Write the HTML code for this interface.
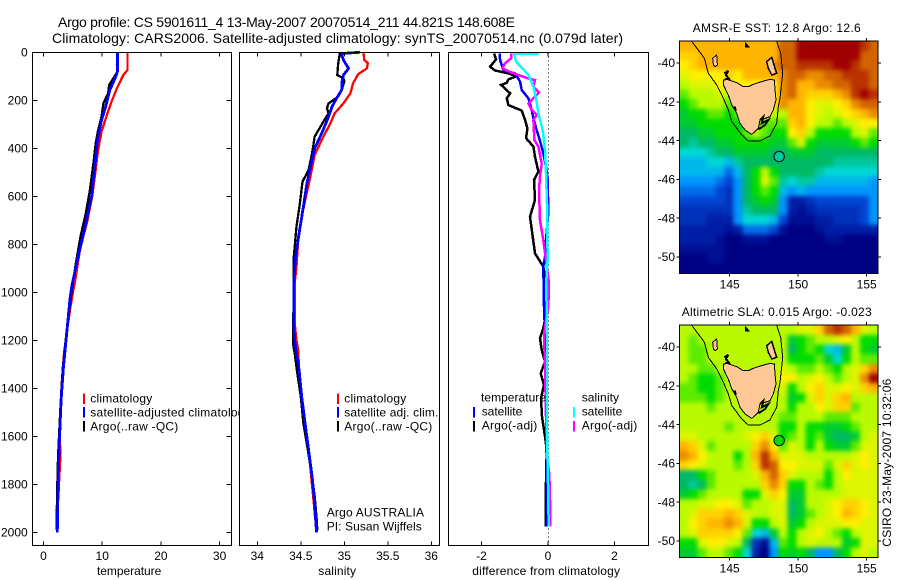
<!DOCTYPE html>
<html>
<head>
<meta charset="utf-8">
<title>Argo profile</title>
<style>
html,body{margin:0;padding:0;background:#fff;}
svg{display:block;font-family:"Liberation Sans",sans-serif;font-size:12px;fill:#000;}
</style>
</head>
<body>
<svg id="chart" xmlns="http://www.w3.org/2000/svg" width="900" height="580" viewBox="0 0 900 580">
<rect width="900" height="580" fill="#fff"/>
<text x="58" y="27" font-size="14" textLength="457" lengthAdjust="spacing">Argo profile: CS 5901611_4 13-May-2007 20070514_211 44.821S 148.608E</text>
<text x="52" y="43" font-size="14" textLength="571" lengthAdjust="spacing">Climatology: CARS2006. Satellite-adjusted climatology: synTS_20070514.nc (0.079d later)</text>
<g id="g1"></g>
<g id="g2"></g>
<g id="g3"></g>
<g id="g4"></g>
<g id="g5"></g>
<text x="692.7" y="32" textLength="168" lengthAdjust="spacing">AMSR-E SST: 12.8 Argo: 12.6</text>
<text x="681.7" y="316" textLength="190" lengthAdjust="spacing">Altimetric SLA: 0.015 Argo: -0.023</text>
<text transform="translate(891,546.7) rotate(-90)" textLength="168" lengthAdjust="spacing">CSIRO 23-May-2007 10:32:06</text>
</svg>
<script>
// ---- axis ticks ----
const depthTicks=[0,200,400,600,800,1000,1200,1400,1600,1800,2000];
const tempTicks=[0,10,20,30];
const salTicks=[34,34.5,35,35.5,36];
const diffTicks=[-2,0,2];
const lonTicks=[145,150,155];
const latTicks=[-40,-42,-44,-46,-48,-50];

// ---- temperature profiles ----
const tClimDepth=[0,74,95,150,205,261,330,407,505,600,700,824,950,990,1060,1143,1254,1379,1574,1671,1865,1890,1950,2000];
const tClimValue=[14.3,14.3,13.6,12.5,11.6,10.8,9.9,9.3,8.8,8.3,7.5,6.2,5.4,5.1,4.6,4.1,3.5,3.1,2.7,2.9,2.5,2.25,2.25,2.3];
const tSatDepth=[0,80,108,157,226,282,365,463,600,713,852,976,1030,1171,1310,1449,1630,1769,2000];
const tSatValue=[12.6,12.6,12.2,11.3,10.6,9.9,9.2,8.8,8.2,7.2,5.9,4.8,4.5,3.95,3.4,3,2.7,2.5,2.35];
const tArgoDepth=[0,50,85,108,136,171,213,268,324,379,463,574,671,768,880,977,1171,1310,1449,1643,1740,1950,1990];
const tArgoValue=[12.6,12.5,12.5,11.9,11.2,11,10.2,9.9,9.3,8.9,8.5,7.9,7.2,6.3,5.5,4.9,3.9,3.3,2.95,2.55,2.4,2.25,2.25];

// ---- salinity profiles ----
const sClimDepth=[0,32,46,67,91,130,171,213,254,296,365,428,518,600,685,782,893,963,1130,1200,1240,1324,1435,1546,1657,1768,1879,1960];
const sClimValue=[35.22,35.23,35.27,35.26,35.16,35.1,35.07,34.99,34.89,34.84,34.74,34.66,34.61,34.56,34.51,34.47,34.45,34.43,34.43,34.45,34.47,34.48,34.51,34.55,34.59,34.62,34.65,34.67];
const sSatDepth=[0,5,10,32,67,95,130,157,192,226,268,338,400,463,546,643,754,852,963,1130,1200,1254,1324,1435,1546,1657,1768,1879,2000];
const sSatValue=[35.18,34.97,34.97,34.99,35.05,34.99,34.97,34.97,34.91,34.86,34.82,34.74,34.66,34.62,34.57,34.53,34.48,34.44,34.42,34.42,34.43,34.45,34.48,34.51,34.55,34.59,34.63,34.66,34.68];
const sArgoDepth=[0,46,95,108,122,157,185,213,233,254,289,351,421,490,539,629,726,852,1000,1171,1213,1254,1338,1435,1546,1657,1768,1851,1935,1990];
const sArgoValue=[34.95,34.93,34.92,34.99,35,34.97,34.93,34.82,34.8,34.82,34.76,34.66,34.63,34.59,34.52,34.49,34.45,34.42,34.42,34.41,34.41,34.43,34.46,34.5,34.53,34.58,34.63,34.66,34.68,34.69];

// ---- differences from climatology ----
const dTSatDepth=[5,32,74,88,122,157,192,240,275,324,379,421,477,532,671,782,852,893,1060,1171,1518,1726,1976];
const dTSatValue=[-1.46,-1.44,-1.34,-0.99,-0.84,-0.79,-0.59,-0.49,-0.44,-0.34,-0.22,-0.14,-0.06,-0.01,0.01,-0.06,-0.09,-0.14,-0.12,-0.09,-0.06,-0.04,-0.04];
const dTArgoDepth=[5,29,60,76,88,99,113,127,136,171,192,220,243,282,317,358,393,435,497,532,615,685,768,838,893,935,1060,1115,1150,1192,1240,1289,1338,1386,1442,1518,1601,1657,1851,1976];
const dTArgoValue=[-1.62,-1.56,-1.74,-1.59,-1.19,-0.94,-1.19,-1.24,-1.41,-1.14,-1.24,-1.19,-0.79,-0.69,-0.62,-0.66,-0.44,-0.39,-0.29,-0.42,-0.39,-0.54,-0.46,-0.39,-0.14,-0.09,-0.09,-0.09,-0.14,-0.24,-0.19,-0.09,-0.22,-0.12,-0.21,-0.18,-0.09,-0.04,-0.07,-0.07];
const dSSatDepth=[5,7,39,57,94,143,192,254,324,407,504,671,782,852,977,1060,1171,1587,1796,1976];
const dSSatValue=[-0.27,-1.02,-0.96,-0.84,-0.59,-0.44,-0.36,-0.29,-0.16,-0.09,-0.06,-0.02,-0.02,-0.01,-0.06,-0.04,-0.03,-0.03,0,0.02];
const dSArgoDepth=[5,25,46,67,85,109,116,143,168,213,240,261,282,365,393,463,518,574,699,782,866,963,1060,1171,1310,1518,1699,1754,1865,1976];
const dSArgoValue=[-1.11,-1.11,-1.29,-1.37,-1.09,-0.59,-0.39,-0.44,-0.27,-0.59,-0.49,-0.34,-0.44,-0.41,-0.29,-0.19,-0.24,-0.27,-0.24,-0.14,-0.06,0.03,0.01,-0.12,-0.09,-0.06,-0.02,0.04,0.06,0.06];

// ---- map fields: colour level per grid cell (north to south, west to east) ----
const sstLevels=[
[9,9,9,9,9,9,9,9,9,9,9,10,10,11,11,11,11,11,11,11,10.5,10],
[8.5,8.5,9,9,9,9,9,9,9,9,9,10,10,11,11,11,11,11,11,11,10,10],
[8,8.5,9,9,9,9,9,9,9,9,9.5,10,10,10.5,10.5,10.5,10.5,11,11,10.5,10,10],
[7.5,8,8,8,8,8.5,8,9,9,9,9,9.5,10,10,9.5,9.5,10,10,10.5,10.5,10.5,10],
[7,7.5,7.5,7.5,8,7,8,8,8,8,8,9.5,10,9,9,9.5,9.5,10,10,10.5,10.5,10],
[6.5,7,7,7,7.5,7,8,8,8,8,8,9.5,10,9,8.5,8.5,8.5,9,9.5,10.5,11,10.5],
[6,6.5,7,7,7,6.5,7,8,8,8,8,9.5,9,9,8,7.5,7.5,8,8.5,9.5,10,10],
[5.5,6,6,6.5,6.5,6,6.5,7,7,7,7,7,9,9,8,7.5,7,7.5,8,8.5,9,9.5],
[5.5,5.5,6,6,6,6,6,6,6.5,6.5,6.5,6.5,8.5,9,8,7,7,6.5,7,7.5,8,8],
[5,5,5.5,5.5,6,6,6,6.5,7,6.5,6,6,8,8.5,7,6,6,6,6,7,7.5,6.5],
[5,4.5,5,5,5.5,5.5,6,6,6,6,5.5,5.5,6.5,7.5,6,5.5,5.5,5.5,5.5,6,6.5,6],
[4,4,4,4.5,5,5,5.5,5.5,5.5,5.5,5,5,5.5,5.5,5.5,5,5,5,5,5,5,5],
[3.5,3.5,3.5,4,4,3.5,4.5,5,5,5,5,5,5,5,5,5,5,4.5,4.5,4.5,4.5,4.5],
[3.5,3.5,3.5,3.5,3.5,2.5,3.5,5,6,7,6,5,5,5,5,4.5,4,4,4,4,4,4],
[3,3,3,3,2.5,2,3,5,6,7.5,6.5,4.5,4,4.5,4.5,3.5,3.5,3.5,3.5,3.5,3.5,3],
[2.5,2.5,2.5,2.5,2,1.5,3,5,6,6.5,6,3.5,3,3.5,3,3,3,3,3,3,3,3],
[2,2,2,2,2,1.5,3,5,5.5,6,5.5,3,1,1,1.5,2,2,2,2,2,2,3],
[1.5,1.5,1.5,1.5,1.5,1.5,3,4.5,5,5,5,3,1,0.5,1,1.5,1.5,1.5,1.5,1.5,2,3],
[1.5,1.5,1.5,1,1,1,3,4,4,4,3.5,2,0.5,0.5,0.5,1,1,1.5,1.5,1.5,2,3],
[1,1,1,1,1,0.5,1,2.5,2.5,2.5,2,0.5,0,0,0,0.5,1,1,1,1,1,1],
[1,1,1,1,0.5,0,0,0.5,0.5,0.5,0,0,0,0,0,0,0.5,0.5,0,0,0,0],
[0.5,0.5,0.5,0.5,0.5,0,0,0,0,0,0,0,0,0,0,0,0,0,0,0,0,0],
[0,0,0,0.5,0.5,0,0,0,0,0,0,0,0,0,0,0,0,0,0,0,0,0],
[0,0,0,0,0,0,0,0,0,0,0,0,0,0,0,0,0,0,0,0,0,0]
];
const slaLevels=[
[7,7,7,7,7,7,7,7,7,7,7,7,7,7.5,7.5,8.5,10,10.5,10,9,7.5,7],
[7,6.5,7,7,7,7,7,7,7,7,7,7,5.5,6,6.5,7,7,7.5,8,7,6,6],
[7,6.5,6.5,7,7,7,7,7,7,7,7,7,5,6,6.5,6,4,3.5,5.5,7,6,5.5],
[7,6.5,6.5,7,7,7,7,7,7,7,7,7,6,6,6,6.5,5.5,4,6,7,6.5,6.5],
[7,7,6.5,6.5,7,7,7,7,7,7,7,7.5,7,6.5,6.5,7,6.5,6,7,7.5,8.5,9.5],
[7,6.5,6,6,6.5,7,7,7,7,7,7,8,8,7,7.5,8,7,6.5,7,7.5,9.5,11],
[6.5,6.5,6,6,6.5,7,7,7,7,7,7,7.5,6,7,8,8.5,7.5,7.5,8,7.5,8.5,9],
[6.5,6.5,6.5,6,6.5,7,7,7,7,7,7,7,5.5,6,7.5,8.5,7.5,8.5,9,7,7,7],
[7,7,7,6.5,7,7,7,7,7,7,7,7,6,7,7,8,7.5,8.5,8.5,6.5,7,7],
[7,7,7,7,7,7,7,7,7,7,7,6.5,6.5,7,7,7,6.5,6.5,6.5,7,7,7],
[7,7,7,7,7,6.5,7,7,7,7,7,6,6,7,6,6,5.5,5.5,6,6.5,7,7],
[7.5,7.5,7,7,7,7,7,7.5,8,8.5,7.5,6,6.5,7,6,6.5,5.5,5,5,5.5,7,7.5],
[9,8.5,7.5,6.5,7,7,7,7,8.5,9.5,8,6.5,7.5,7,6,7,6,5.5,5.5,6.5,7.5,7.5],
[9.5,9,8,7,7,7,6,7,9,10.5,9,7.5,7.5,7.5,7,7,7,7,7,7.5,8,7.5],
[8.5,8,7.5,7,7,7,6.5,7,8.5,10.5,10,8,8,7.5,7.5,7.5,6.5,7.5,8.5,7.5,8,7.5],
[5,5,6,6.5,7,7,7,7,7.5,9,10,8.5,7.5,7,7,7,6,7,8,7.5,7.5,7.5],
[5,4.5,5,6.5,7,7,7,7,7,8.5,9.5,8.5,6,6,7,6.5,6,7,7.5,7.5,7.5,7.5],
[5.5,6,6.5,7,7,7,7,6,6,7.5,8.5,8,5.5,5.5,7,7,7,7,7.5,7.5,7.5,7.5],
[7,7,7.5,7.5,8,8,7.5,6.5,7,7,7.5,7.5,5,5.5,7,7,7.5,8,8.5,8.5,8,7.5],
[7,7.5,8.5,8.5,8.5,9,8.5,7.5,7,7,7.5,7.5,5,5.5,6.5,7,7.5,8,9,8.5,8,7.5],
[7,8,8.5,9,9,9.5,9,7.5,6,6,7,7.5,5.5,6,7,7.5,7.5,7.5,8,8,7.5,7.5],
[7,7.5,8.5,8.5,8.5,8.5,8,6.5,4,3.5,5.5,7,6,7,7.5,8,7,6.5,6,7,7.5,7.5],
[6,6,7.5,8,8,7.5,7,5,1.5,0.5,3.5,6.5,6,7,7.5,7,7,7,5.5,6,7.5,7.5],
[5.5,5.5,6.5,7,7,6.5,6,4,1,0,3,6,5.5,6,5,3,3,5,6,7,7.5,7]
];
const argoLon=148.608;
const argoLat=-44.821;
const sstArgoLevel=4.5;
const slaArgoLevel=6;

// ---- geography (lon/lat) ----
const tasmaniaLon=[144.53,144.78,145.51,145.99,146.36,146.72,147.34,147.94,148.26,148.31,148.38,148.18,147.94,147.21,147.09,146.61,146.12,145.75,145.51,145.15,144.9,144.53];
const tasmaniaLat=[-40.88,-40.84,-41.01,-41.22,-41.22,-41.1,-40.96,-40.84,-40.88,-41.39,-41.91,-42.42,-42.77,-42.94,-43.37,-43.68,-43.45,-43.11,-42.59,-42.16,-41.65,-41.13];
const kingLon=[143.76,144.05,144.1,143.93,143.81];
const kingLat=[-39.76,-39.59,-40.1,-40.19,-40.1];
const flindersLon=[147.7,148.07,148.31,148.43,148.07,147.82];
const flindersLat=[-39.93,-39.71,-40.27,-40.53,-40.62,-40.27];
const hunterLon=[144.61,144.9,144.72,144.95,144.66];
const hunterLat=[-40.53,-40.41,-40.62,-40.82,-40.84];
const peninsulaLon=[147.21,147.45,147.34,147.82,147.58,147.09];
const peninsulaLat=[-42.94,-42.77,-43.11,-42.94,-43.2,-43.42];
const harbourLon=[145.15,145.51,145.46];
const harbourLat=[-42.25,-42.51,-42.25];
const kentLon=[146.12,146.48,146.12];
const kentLat=[-38.9,-39.19,-39.19];
const contourLon=[142.23,142.71,143.15,143.44,144.05,144.54,144.9,145.15,145.88,146.36,147.21,147.94,148.43,148.55,148.67,148.87,148.72,148.43];
const contourLat=[-38.88,-39.33,-39.76,-40.53,-41.13,-41.82,-42.42,-43.02,-43.71,-44.02,-44.02,-43.76,-43.11,-42.25,-41.82,-40.53,-39.5,-38.88];

// ---- colormap stops (level 0..11) ----
const colorStops=[[0,0,130],[0,30,165],[0,70,210],[0,150,255],[0,215,215],[0,185,100],[0,220,0],[185,250,0],[255,240,0],[255,180,0],[210,100,0],[160,0,0]];

const NS='http://www.w3.org/2000/svg';
function make(parent,tag,attrs,name){
  const el=document.createElementNS(NS,tag);
  for(const k in attrs){el.setAttribute(k,attrs[k]);}
  
  
  parent.appendChild(el);
  return el;
}
function label(parent,str,x,y,anchor,name,len){
  const attrs={x:x,y:y,'text-anchor':anchor};
  if(len){attrs.textLength=len;attrs.lengthAdjust='spacing';}
  const t=make(parent,'text',attrs,name);
  t.textContent=str;
  return t;
}
const depthY=d=>52.3+0.24*d;
const tempX=v=>43.5+5.87*v;
const salX=v=>257.3+87*(v-34);
const diffX=v=>548+33.25*v;

function line(parent,xf,values,depths,color,name,width){
  const pts=values.map((v,i)=>xf(v).toFixed(1)+','+depthY(depths[i]).toFixed(1)).join(' ');
  make(parent,'polyline',{points:pts,fill:'none',stroke:color,'stroke-width':width||2.3,'shape-rendering':'crispEdges','stroke-linejoin':'miter'},name);
}
function frame(parent,l,r,xf,ticks,labels,title,titleX,titleLen,showDepth,prefix){
  const T=52.5,B=545.5;
  make(parent,'rect',{x:l,y:T,width:r-l,height:B-T,fill:'#fff',stroke:'none'},prefix+'-background');
  return function(){
    make(parent,'rect',{x:l,y:T,width:r-l,height:B-T,fill:'none',stroke:'#000','stroke-width':1,'shape-rendering':'crispEdges'},prefix+'-frame');
    ticks.forEach((t,i)=>{
      const x=xf(t);
      make(parent,'line',{x1:x,x2:x,y1:T,y2:T+4,stroke:'#000','shape-rendering':'crispEdges'},prefix+'-top-tick');
      make(parent,'line',{x1:x,x2:x,y1:B,y2:B-4,stroke:'#000','shape-rendering':'crispEdges'},prefix+'-bottom-tick');
      label(parent,labels[i],x,560,'middle',prefix+'-x-tick-label');
    });
    label(parent,title,titleX,575,'start',prefix+'-x-axis-title',titleLen);
    if(showDepth){
      depthTicks.forEach(d=>{
        const y=depthY(d);
        make(parent,'line',{x1:l,x2:l+5,y1:y,y2:y,stroke:'#000','shape-rendering':'crispEdges'},'depth-left-tick');
        make(parent,'line',{x1:r,x2:r-5,y1:y,y2:y,stroke:'#000','shape-rendering':'crispEdges'},'depth-right-tick');
        label(parent,String(d),27.7,y+4.2,'end','depth-tick-label');
      });
    }
  };
}
function legendMark(parent,x,y,color,name){
  make(parent,'rect',{x:x,y:y,width:2,height:10.6,fill:color,'shape-rendering':'crispEdges'},name);
}

// ---- temperature panel ----
const g1=document.getElementById('g1');
const f1=frame(g1,32.5,231.5,tempX,tempTicks,tempTicks.map(String),'temperature',97,64.3,true,'temperature');
line(g1,tempX,tClimValue,tClimDepth,'#ff0000','temperature-climatology-line');
line(g1,tempX,tArgoValue,tArgoDepth,'#000000','temperature-argo-line');
line(g1,tempX,tSatValue,tSatDepth,'#0000ff','temperature-satellite-line',2.8);
f1();
legendMark(g1,83,393.4,'#ff0000','legend-climatology-mark');
legendMark(g1,83,406.8,'#0000ff','legend-satellite-mark');
legendMark(g1,83,421,'#000000','legend-argo-mark');
label(g1,'climatology',90.3,402.7,'start','legend-climatology-label',62);
label(g1,'satellite-adjusted climatology',90.3,416.7,'start','legend-satellite-label',160.4);
label(g1,'Argo(..raw -QC)',90.3,430.7,'start','legend-argo-label',88);

// ---- salinity panel ----
const g2=document.getElementById('g2');
const f2=frame(g2,239.5,439.5,salX,salTicks,['34','34.5','35','35.5','36'],'salinity',318.3,37.7,false,'salinity');
line(g2,salX,sClimValue,sClimDepth,'#ff0000','salinity-climatology-line');
line(g2,salX,sArgoValue,sArgoDepth,'#000000','salinity-argo-line');
line(g2,salX,sSatValue,sSatDepth,'#0000ff','salinity-satellite-line',2.8);
f2();
legendMark(g2,337,393.4,'#ff0000','legend-climatology-mark');
legendMark(g2,337,406.8,'#0000ff','legend-satellite-mark');
legendMark(g2,337,421,'#000000','legend-argo-mark');
label(g2,'climatology',344.3,402.7,'start','legend-climatology-label',62);
label(g2,'satellite adj. clim.',344.3,416.7,'start','legend-satellite-label',94);
label(g2,'Argo(..raw -QC)',344.3,430.7,'start','legend-argo-label',88);
label(g2,'Argo AUSTRALIA',326.7,516.7,'start','float-country-label',97.3);
label(g2,'PI: Susan Wijffels',326.7,530.7,'start','principal-investigator-label',95);

// ---- difference panel ----
const g3=document.getElementById('g3');
const f3=frame(g3,448.5,648.5,diffX,diffTicks,['-2','0','2'],'difference from climatology',472.3,147.7,false,'difference');
make(g3,'line',{x1:diffX(0)+0.5,x2:diffX(0)+0.5,y1:52.5,y2:545.5,stroke:'#000','stroke-dasharray':'1 3','shape-rendering':'crispEdges'},'zero-reference-line');
line(g3,diffX,dTArgoValue,dTArgoDepth,'#000000','difference-temperature-argo-line',2.5);
line(g3,diffX,dTSatValue,dTSatDepth,'#0000ff','difference-temperature-satellite-line',2.5);
line(g3,diffX,dSArgoValue,dSArgoDepth,'#ff00ff','difference-salinity-argo-line',2.5);
line(g3,diffX,dSSatValue,dSSatDepth,'#00ffff','difference-salinity-satellite-line',2.5);
f3();
legendMark(g3,473,406.8,'#0000ff','legend-temperature-satellite-mark');
legendMark(g3,473,421,'#000000','legend-temperature-argo-mark');
legendMark(g3,573,406.8,'#00ffff','legend-salinity-satellite-mark');
legendMark(g3,573,421,'#ff00ff','legend-salinity-argo-mark');
label(g3,'temperature',481,401.7,'start','legend-temperature-heading',65);
label(g3,'satellite',481.7,415.7,'start','legend-temperature-satellite-label',40.6);
label(g3,'Argo(-adj)',481.7,429.7,'start','legend-temperature-argo-label',55.6);
label(g3,'salinity',581.7,401.7,'start','legend-salinity-heading',37.3);
label(g3,'satellite',581.7,415.7,'start','legend-salinity-satellite-label',40.6);
label(g3,'Argo(-adj)',581.7,429.7,'start','legend-salinity-argo-label',55.6);

// ---- maps ----
function levelColor(l){
  const i=Math.min(Math.floor(l),colorStops.length-2);
  const f=l-i;
  const a=colorStops[i],b=colorStops[i+1];
  return 'rgb('+a.map((c,k)=>Math.round(c+(b[k]-c)*f)).join(',')+')';
}
function drawMap(parent,levels,top,argoLevel,prefix){
  const lonW=141.33,lonE=155.82,latN=-38.87,latS=-50.84;
  const mx=lon=>729.7+13.7*(lon-145);
  const my=lat=>top+21.7+19.4*(-40-lat);
  const rows=levels.length,cols=levels[0].length;
  const dLon=(lonE-lonW)/cols,dLat=(latN-latS)/rows;
  const L=mx(lonW),R=mx(lonE),TT=my(latN),BB=my(latS);
  const defs=make(parent,'defs',{},prefix+'-definitions');
  const clip=make(defs,'clipPath',{id:prefix+'-clip'},prefix+'-clip-path');
  make(clip,'rect',{x:L,y:TT,width:R-L,height:BB-TT},prefix+'-clip-rect');
  const blur=make(defs,'filter',{id:prefix+'-blur',filterUnits:'userSpaceOnUse',x:L-30,y:TT-30,width:R-L+60,height:BB-TT+60,'color-interpolation-filters':'sRGB'},prefix+'-smoothing-filter');
  make(blur,'feGaussianBlur',{stdDeviation:'2.4'},prefix+'-smoothing-blur');
  const clipped=make(parent,'g',{'clip-path':'url(#'+prefix+'-clip)'},prefix+'-clip-group');
  const field=make(clipped,'g',{filter:'url(#'+prefix+'-blur)'},prefix+'-field');
  levels.forEach((row,j)=>{
    row.forEach((v,i)=>{
      let x0=mx(lonW+i*dLon),x1=mx(lonW+(i+1)*dLon);
      let y0=my(latN-j*dLat),y1=my(latN-(j+1)*dLat);
      if(i===0){x0-=20;}
      if(i===cols-1){x1+=20;}
      if(j===0){y0-=20;}
      if(j===rows-1){y1+=20;}
      make(field,'rect',{x:x0,y:y0,width:x1-x0,height:y1-y0,fill:levelColor(v),'shape-rendering':'crispEdges'},prefix+'-cell');
    });
  });
  const poly=(lons,lats)=>lons.map((v,i)=>mx(v).toFixed(1)+','+my(lats[i]).toFixed(1)).join(' ');
  const sharp={'shape-rendering':'crispEdges'};
  make(parent,'polyline',Object.assign({points:poly(contourLon,contourLat),fill:'none',stroke:'#000','stroke-width':1},sharp),prefix+'-shelf-contour');
  make(parent,'polygon',Object.assign({points:poly(tasmaniaLon,tasmaniaLat),fill:'#ffc896',stroke:'#000','stroke-width':1},sharp),prefix+'-tasmania');
  make(parent,'polygon',Object.assign({points:poly(kingLon,kingLat),fill:'#ffc896',stroke:'#000','stroke-width':1},sharp),prefix+'-king-island');
  make(parent,'polygon',Object.assign({points:poly(flindersLon,flindersLat),fill:'#ffc896',stroke:'#000','stroke-width':1.5},sharp),prefix+'-flinders-island');
  make(parent,'polyline',Object.assign({points:poly(hunterLon,hunterLat),fill:'none',stroke:'#000','stroke-width':2},sharp),prefix+'-hunter-islands');
  make(parent,'polyline',Object.assign({points:poly(peninsulaLon,peninsulaLat),fill:'none',stroke:'#000','stroke-width':2},sharp),prefix+'-tasman-peninsula');
  make(parent,'polygon',Object.assign({points:poly(harbourLon,harbourLat),fill:'#000'},sharp),prefix+'-macquarie-harbour');
  make(parent,'polygon',Object.assign({points:poly(kentLon,kentLat),fill:'#000'},sharp),prefix+'-kent-group');
  make(parent,'circle',{cx:mx(argoLon),cy:my(argoLat),r:5.2,fill:levelColor(argoLevel),stroke:'#000','stroke-width':1},prefix+'-argo-position');
  make(parent,'rect',Object.assign({x:L,y:TT,width:R-L,height:BB-TT,fill:'none',stroke:'#000','stroke-width':1},sharp),prefix+'-frame');
  lonTicks.forEach(t=>{
    const x=mx(t);
    make(parent,'line',Object.assign({x1:x,x2:x,y1:TT,y2:TT-3,stroke:'#000'},sharp),prefix+'-top-tick');
    make(parent,'line',Object.assign({x1:x,x2:x,y1:BB,y2:BB+3,stroke:'#000'},sharp),prefix+'-bottom-tick');
    label(parent,String(t),x,top+247,'middle',prefix+'-lon-tick-label');
  });
  latTicks.forEach(t=>{
    const y=my(t);
    make(parent,'line',Object.assign({x1:L,x2:L-3,y1:y,y2:y,stroke:'#000'},sharp),prefix+'-left-tick');
    make(parent,'line',Object.assign({x1:R,x2:R+3,y1:y,y2:y,stroke:'#000'},sharp),prefix+'-right-tick');
    label(parent,String(t),675,y+4.2,'end',prefix+'-lat-tick-label');
  });
}
drawMap(document.getElementById('g4'),sstLevels,41.3,sstArgoLevel,'sst');
drawMap(document.getElementById('g5'),slaLevels,325.3,slaArgoLevel,'sla');
</script>
</body>
</html>
